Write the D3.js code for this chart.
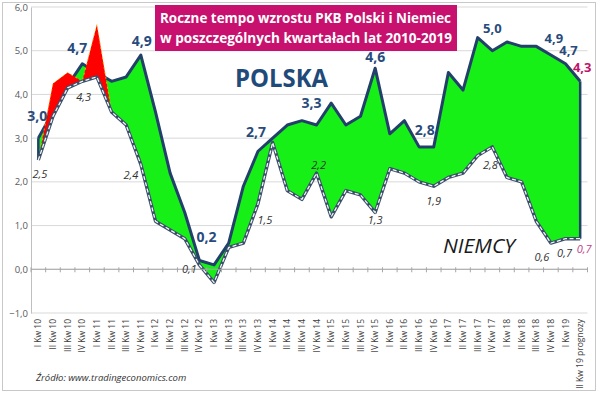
<!DOCTYPE html>
<html><head><meta charset="utf-8">
<script src="https://cdn.jsdelivr.net/npm/d3@7"></script>
<style>
html,body{margin:0;padding:0;background:#fff;}
svg{display:block;font-family:"Open Sans","Noto Sans",sans-serif;}
</style></head>
<body>
<svg id="chart" width="600" height="393"></svg>
<script>
// ---- DATA ----
const kwartaly = [
 "I Kw 10","II Kw 10","III Kw 10","IV Kw 10",
 "I Kw 11","II Kw 11","III Kw 11","IV Kw 11",
 "I Kw 12","II Kw 12","III Kw 12","IV Kw 12",
 "I Kw 13","II Kw 13","III Kw 13","IV Kw 13",
 "I Kw 14","II Kw 14","III Kw 14","IV Kw 14",
 "I Kw 15","II Kw 15","III Kw 15","IV Kw 15",
 "I Kw 16","II Kw 16","III Kw 16","IV Kw 16",
 "I Kw 17","II Kw 17","III Kw 17","IV Kw 17",
 "I Kw 18","II Kw 18","III Kw 18","IV Kw 18",
 "I Kw 19","II Kw 19 prognozy"];
const polska = [3.0,3.6,4.2,4.7, 4.5,4.3,4.4,4.9, 3.6,2.2,1.3,0.2, 0.1,0.6,1.9,2.7,
 3.0,3.3,3.4,3.3, 3.8,3.3,3.5,4.6, 3.1,3.4,2.8,2.8, 4.5,4.1,5.3,5.0, 5.2,5.1,5.1,4.9, 4.7,4.3];
const niemcy = [2.5,3.5,4.15,4.3, 4.4,3.6,3.3,2.4, 1.1,0.9,0.7,0.1, -0.3,0.5,0.6,1.5,
 2.9,1.8,1.6,2.2, 1.2,1.8,1.7,1.3, 2.3,2.2,2.0,1.9, 2.1,2.2,2.6,2.8, 2.1,2.0,1.1,0.6, 0.7,0.7];
// red highlight (Germany ahead of Poland), first quarters only
const nadwyzkaNiemiec = [2.5,4.25,4.5,4.3,5.6,3.6];
const yTicks = [-1,0,1,2,3,4,5,6];
const etykietyPolska = [0,3,7,11,15,19,23,27,31,35,36,37];
const etykietyNiemcy = [0,3,7,11,15,19,23,27,31,35,36,37];

// ---- layout (not data) ----
const plPos = {0:[-1,-17],3:[-5,-11],7:[1,-9],11:[7,-19],15:[-2,-14],19:[-5,-17],23:[0,-6],27:[-9,-12],31:[0,-18],35:[3,-12],36:[3,-9],37:[2,-9]};
const dePos = {0:[1.5,18],3:[1.5,20],7:[-10,15],11:[-10,8],15:[7,20],19:[2,-4],23:[0,12],27:[0,19],31:[-2,22],35:[-9,18],36:[-1,18],37:[4,14]};

const fmt = v => d3.format(".1f")(v).replace(".", ",");
const svg = d3.select("#chart");

// frame
svg.append("rect").attr("x",2.5).attr("y",2.5).attr("width",593).attr("height",388)
  .attr("fill","#fff").attr("stroke","#c8c8c8");

const x = d3.scaleBand().domain(kwartaly).range([31, 587.5]);
const cx = i => x(kwartaly[i]) + x.bandwidth()/2;
const y = d3.scaleLinear().domain([-1,6]).range([313,7]);

// gridlines
svg.append("g").selectAll("line").data(yTicks).join("line")
  .attr("x1",31).attr("x2",587.5).attr("y1",d=>y(d)).attr("y2",d=>y(d))
  .attr("stroke","#d9d9d9").attr("stroke-width",1);

// y axis
const yAxis = svg.append("g").attr("transform","translate(31,0)")
  .call(d3.axisLeft(y).tickValues(yTicks).tickFormat(fmt).tickSize(0).tickPadding(3));
yAxis.select(".domain").attr("stroke","#bfbfbf");
yAxis.selectAll("text").attr("font-size","9.5px").attr("fill","#595959")
  .attr("font-family","'Open Sans',sans-serif");

// green area between Poland and Germany
const idx = d3.range(kwartaly.length);
svg.append("path").datum(idx)
  .attr("d", d3.area().x(i=>cx(i)).y0(i=>y(niemcy[i])).y1(i=>y(polska[i])))
  .attr("fill","#17f017");

// Poland line
svg.append("path").datum(idx)
  .attr("d", d3.line().x(i=>cx(i)).y(i=>y(polska[i])))
  .attr("fill","none").attr("stroke","#22406a").attr("stroke-width",3).attr("stroke-linejoin","round");

// side edges of the area
const last = kwartaly.length-1;
[0,last].forEach(i=>{
  svg.append("line").attr("x1",cx(i)).attr("x2",cx(i))
    .attr("y1",y(polska[i])).attr("y2",y(niemcy[i]))
    .attr("stroke","#22406a").attr("stroke-width",2.5);
});

// red area
const redIdx = d3.range(nadwyzkaNiemiec.length);
svg.append("path").datum(redIdx)
  .attr("d", d3.area().x(i=>cx(i)).y0(i=>y(niemcy[i])).y1(i=>y(nadwyzkaNiemiec[i])))
  .attr("fill","#ff0000");
svg.append("path").datum(redIdx)
  .attr("d", d3.line().x(i=>cx(i)).y(i=>y(nadwyzkaNiemiec[i])))
  .attr("fill","none").attr("stroke","#ffc000").attr("stroke-width",0.8).attr("stroke-dasharray","2,3");

// Germany line: dark outline with white dashes
const deLine = d3.line().x(i=>cx(i)).y(i=>y(niemcy[i]));
svg.append("path").datum(idx).attr("d",deLine)
  .attr("fill","none").attr("stroke","#3b4f6b").attr("stroke-width",3.4).attr("stroke-linejoin","round");
svg.append("path").datum(idx).attr("d",deLine)
  .attr("fill","none").attr("stroke","#f4f4f4").attr("stroke-width",1.3).attr("stroke-dasharray","4,2.5");

// x axis at zero
svg.append("line").attr("x1",31).attr("x2",587.5).attr("y1",y(0)).attr("y2",y(0))
  .attr("stroke","#a6a6a6").attr("stroke-width",1);
svg.append("g").selectAll("line").data(kwartaly.concat([null])).join("line")
  .attr("x1",(d,i)=> i<kwartaly.length ? x(d) : x(kwartaly[last])+x.bandwidth())
  .attr("x2",(d,i)=> i<kwartaly.length ? x(d) : x(kwartaly[last])+x.bandwidth())
  .attr("y1",y(0)-2).attr("y2",y(0)+3).attr("stroke","#a6a6a6");

// x labels (rotated)
svg.append("g").selectAll("text").data(kwartaly).join("text")
  .attr("transform",(d,i)=>`translate(${cx(i)+3},319) rotate(-90)`)
  .attr("text-anchor","end").attr("font-size","8.5px").attr("fill","#404040")
  .text(d=>d);

// Poland labels
svg.append("g").selectAll("text").data(etykietyPolska).join("text")
  .attr("x",i=>cx(i)+plPos[i][0]).attr("y",i=>y(polska[i])+plPos[i][1])
  .attr("text-anchor","middle").attr("font-weight","bold")
  .attr("font-size",i=> i>=35 || i===31 ? "13px":"14px")
  .attr("fill",i=> i===last ? "#c0146c" : "#284b7c")
  .text(i=>fmt(polska[i]));

// Germany labels
svg.append("g").selectAll("text").data(etykietyNiemcy).join("text")
  .attr("x",i=>cx(i)+dePos[i][0]).attr("y",i=>y(niemcy[i])+dePos[i][1])
  .attr("text-anchor","middle").attr("font-style","italic").attr("font-size","11px")
  .attr("fill",i=> i===last ? "#c0408a" : "#333")
  .text(i=>fmt(niemcy[i]));

// series names
svg.append("text").attr("x",235).attr("y",87).attr("font-size","25px").attr("font-weight","bold")
  .attr("fill","#1f4a7a").attr("textLength",93).attr("lengthAdjust","spacingAndGlyphs").text("POLSKA");
svg.append("text").attr("x",443).attr("y",253).attr("font-size","20px").attr("font-style","italic")
  .attr("fill","#1a1a1a").attr("textLength",72).attr("lengthAdjust","spacingAndGlyphs").text("NIEMCY");

// title box
svg.append("rect").attr("x",155).attr("y",5).attr("width",302).attr("height",46).attr("fill","#c8106e");
svg.append("text").attr("x",160).attr("y",23).attr("font-size","14px").attr("font-weight","bold")
  .attr("fill","#fff").attr("textLength",291).attr("lengthAdjust","spacingAndGlyphs")
  .text("Roczne tempo wzrostu PKB Polski i Niemiec");
svg.append("text").attr("x",160).attr("y",43).attr("font-size","14px").attr("font-weight","bold")
  .attr("fill","#fff").attr("textLength",292).attr("lengthAdjust","spacingAndGlyphs")
  .text("w poszczególnych kwartałach lat 2010-2019");

// source
svg.append("text").attr("x",36).attr("y",381).attr("font-size","9.5px").attr("font-style","italic")
  .attr("fill","#333").text("Źródło: www.tradingeconomics.com");
</script>
</body></html>
